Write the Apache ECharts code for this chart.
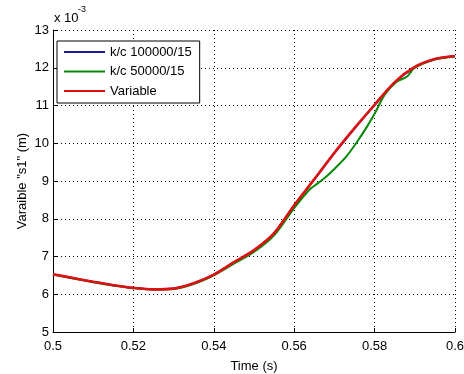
<!DOCTYPE html>
<html>
<head>
<meta charset="utf-8">
<script src="https://cdn.jsdelivr.net/npm/echarts@6/dist/echarts.min.js"></script>
<style>html,body{margin:0;padding:0;background:#fff}#c{width:464px;height:374px}</style>
</head>
<body>
<div id="c"></div>
<script>
// Data (values in units of 1e-3 m)
const seriesNames = ['k/c 100000/15', 'k/c 50000/15', 'Variable'];
const timeRed = [0.500,0.505,0.510,0.515,0.520,0.525,0.530,0.535,0.540,0.545,0.550,0.555,0.560,0.565,0.570,0.575,0.580,0.585,0.590,0.595,0.600];
const valRed  = [6.53,6.43,6.33,6.24,6.17,6.13,6.15,6.29,6.52,6.85,7.17,7.62,8.36,9.05,9.75,10.40,11.02,11.62,12.02,12.23,12.31];
const timeBlue = [0.500,0.505,0.510,0.515,0.520,0.525,0.530,0.535,0.540,0.545,0.550,0.555,0.560,0.565,0.570,0.575,0.580,0.585,0.590,0.595,0.600];
const valBlue  = [6.53,6.43,6.33,6.24,6.17,6.13,6.15,6.29,6.52,6.84,7.16,7.61,8.35,9.04,9.74,10.39,11.01,11.61,12.01,12.23,12.31];
const timeGreen = [0.500,0.505,0.510,0.515,0.520,0.525,0.530,0.535,0.540,0.545,0.550,0.555,0.560,0.5639,0.566,0.568,0.570,0.5729,0.5754,0.578,0.580,0.5826,0.5855,0.588,0.590,0.595,0.600];
const valGreen  = [6.52,6.42,6.32,6.23,6.16,6.12,6.14,6.27,6.50,6.81,7.12,7.56,8.28,8.78,8.95,9.12,9.32,9.64,10.00,10.42,10.78,11.30,11.63,11.76,12.00,12.22,12.30];
const xTicks = [0.5,0.52,0.54,0.56,0.58,0.6];
const yTicks = [5,6,7,8,9,10,11,12,13];

const zip = (t, v) => t.map((x, i) => [x, v[i]]);
const FONT = "'Liberation Sans', Arial, sans-serif";

const chart = echarts.init(document.getElementById('c'), null, {renderer: 'canvas'});
chart.setOption({
  animation: false,
  backgroundColor: '#fff',
  grid: {left: 53, right: 9, top: 30, bottom: 42, containLabel: false, outerBoundsMode: 'none'},
  legend: {
    orient: 'vertical', left: 57, top: 41,
    data: seriesNames,
    icon: 'rect',
    itemWidth: 41, itemHeight: 2, itemGap: 3.5,
    padding: [3, 8, 4, 7],
    borderColor: '#000', borderWidth: 1, backgroundColor: '#fff',
    textStyle: {fontFamily: FONT, fontSize: 13, color: '#000', lineHeight: 16}
  },
  graphic: [
    {type: 'text', left: 54, top: 12, style: {text: 'x 10', font: "13px " + FONT, fill: '#000'}},
    {type: 'text', left: 78, top: 5, style: {text: '-3', font: "9px " + FONT, fill: '#000'}}
  ],
  xAxis: {
    type: 'value', min: xTicks[0], max: xTicks[xTicks.length - 1], interval: 0.02,
    name: 'Time (s)', nameLocation: 'middle', nameGap: 28, nameMoveOverlap: false,
    nameTextStyle: {fontFamily: FONT, fontSize: 13, color: '#000'},
    axisLine: {lineStyle: {color: '#000', width: 1}},
    axisTick: {inside: true, length: 4, lineStyle: {color: '#000'}},
    axisLabel: {fontFamily: FONT, fontSize: 13, color: '#000', margin: 8,
      formatter: v => String(+v.toFixed(2))},
    splitLine: {show: true, lineStyle: {color: '#000', type: [1, 3], width: 1}}
  },
  yAxis: {
    type: 'value', min: yTicks[0], max: yTicks[yTicks.length - 1], interval: 1,
    name: 'Varaible "s1" (m)', nameLocation: 'middle', nameGap: 24, nameMoveOverlap: false,
    nameTextStyle: {fontFamily: FONT, fontSize: 13, color: '#000'},
    axisLine: {show: true, lineStyle: {color: '#000', width: 1}},
    axisTick: {show: true, inside: true, length: 4, lineStyle: {color: '#000'}},
    axisLabel: {fontFamily: FONT, fontSize: 13, color: '#000', margin: 4},
    splitLine: {show: true, lineStyle: {color: '#000', type: [1, 3], width: 1}}
  },
  series: [
    {name: seriesNames[0], type: 'line', data: zip(timeBlue, valBlue), symbol: 'none', smooth: 0.3,
     lineStyle: {color: '#1a1aa0', width: 2}, itemStyle: {color: '#1a1aa0'}},
    {name: seriesNames[1], type: 'line', data: zip(timeGreen, valGreen), symbol: 'none', smooth: 0.3,
     lineStyle: {color: '#0a8a0a', width: 2}, itemStyle: {color: '#0a8a0a'}},
    {name: seriesNames[2], type: 'line', data: zip(timeRed, valRed), symbol: 'none', smooth: 0.3,
     lineStyle: {color: '#dd1111', width: 2.6}, itemStyle: {color: '#dd1111'}}
  ]
});
</script>
</body>
</html>
